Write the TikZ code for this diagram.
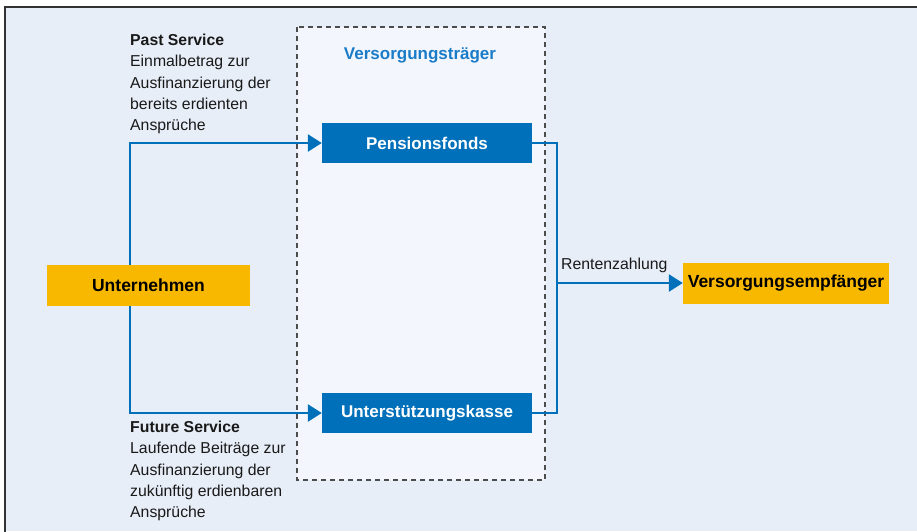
\documentclass[tikz,border=0pt]{standalone}
\usepackage{fontspec}
\setmainfont{Liberation Sans}
\usetikzlibrary{arrows.meta}
\definecolor{bgblue}{HTML}{E8EEF8}
\definecolor{innerbg}{HTML}{F3F6FC}
\definecolor{mainblue}{HTML}{0070BA}
\definecolor{titleblue}{HTML}{1A7CC8}
\definecolor{gold}{HTML}{F9B800}
\definecolor{framegray}{HTML}{333333}
\tikzset{
  bluebox/.style={fill=mainblue, text=white, font=\bfseries\fontsize{17}{20}\selectfont, minimum width=210pt, minimum height=40pt, inner sep=0pt},
  goldbox/.style={fill=gold, text=black, font=\bfseries\fontsize{17.5}{20}\selectfont, minimum height=41pt, inner sep=0pt},
  flow/.style={draw=mainblue, line width=2.6pt, -{Triangle[length=14pt,width=17pt]}},
  flowplain/.style={draw=mainblue, line width=2.6pt},
  note/.style={align=left, font=\fontsize{15.8}{21.3}\selectfont, inner sep=0pt, anchor=north west, text=black!90}
}
\begin{document}
\begin{tikzpicture}[x=1pt,y=-1pt]
\useasboundingbox (0,0) rectangle (917,531);
\clip (0,0) rectangle (917,531);
% outer frame
\fill[bgblue] (5,7) rectangle (917,531);
\draw[framegray, line width=1.4pt] (5,535) -- (5,7) -- (920,7);
% dashed box
\draw[fill=innerbg, dashed, dash pattern=on 5pt off 4pt, line width=1.3pt, draw=black!70] (297,27) rectangle (545,480);
\node[text=titleblue, font=\bfseries\fontsize{17}{20}\selectfont] (vt) at (420,55) {Versorgungsträger};
% nodes
\node[bluebox] (pf) at (427,143) {Pensionsfonds};
\node[bluebox] (uk) at (427,413) {Unterstützungskasse};
\node[goldbox, minimum width=203pt] (un) at (148.5,285.5) {Unternehmen};
\node[goldbox, minimum width=206pt] (ve) at (786,283) {Versorgungsempfänger};
% coordinates
\coordinate (lt) at (130,143);
\coordinate (lb) at (130,413);
\coordinate (rt) at (557,143);
\coordinate (rb) at (557,413);
\coordinate (rm) at (557,283);
% connectors
\draw[flow] (un.north -| lt) -- (lt) -- (pf.west);
\draw[flow] (un.south -| lb) -- (lb) -- (uk.west);
\draw[flowplain] (pf.east) -- (rt) -- (rb) -- (uk.east);
\draw[flow] (rm) -- (ve.west);
% labels
\node[font=\fontsize{15.8}{18}\selectfont, anchor=south west, inner sep=0pt, text=black!90] (rz) at (561,273) {Rentenzahlung};
\node[note] (ps) at (130,34) {\textbf{Past Service}\\Einmalbetrag zur\\Ausfinanzierung der\\bereits erdienten\\Ansprüche};
\node[note] (fs) at (130,421) {\textbf{Future Service}\\Laufende Beiträge zur\\Ausfinanzierung der\\zukünftig erdienbaren\\Ansprüche};
\end{tikzpicture}
\end{document}
